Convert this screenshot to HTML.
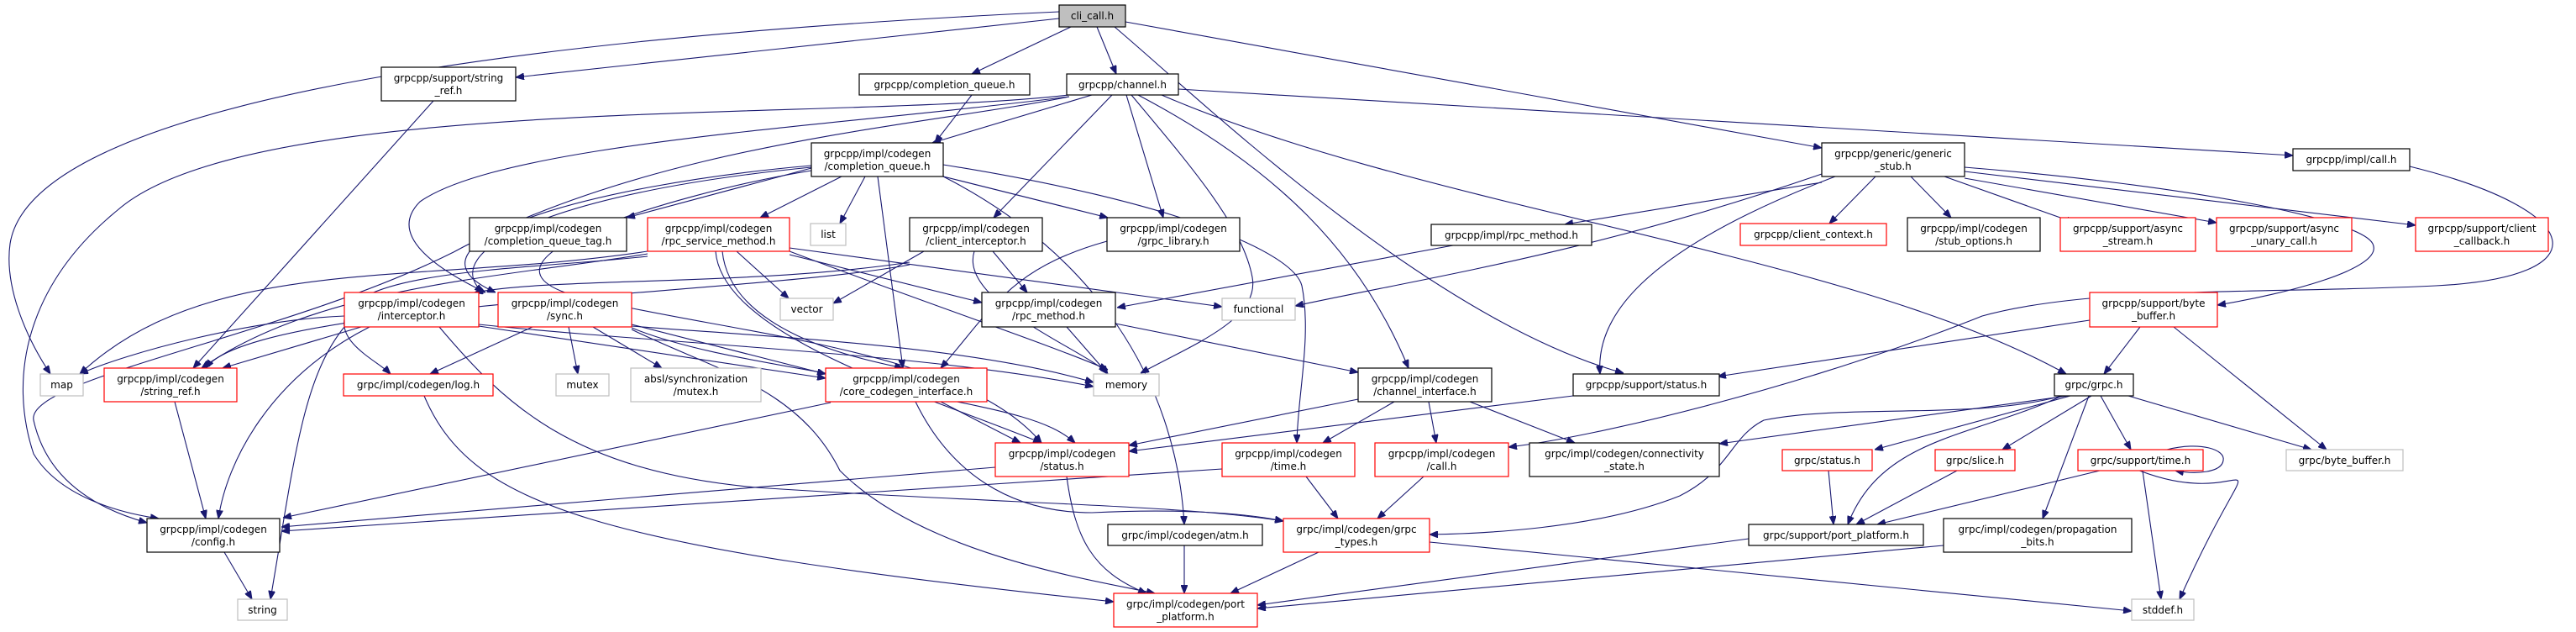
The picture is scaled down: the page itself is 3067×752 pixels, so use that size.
<!DOCTYPE html>
<html><head><meta charset="utf-8"><style>
html,body{margin:0;padding:0;background:#fff;}
svg{display:block;}
text{font-family:"DejaVu Sans","Liberation Sans",sans-serif;font-size:12px;fill:#000;text-anchor:middle;}
.e{fill:none;stroke:#191970;stroke-width:1.1;marker-end:url(#a);}
.b{fill:#fff;stroke:#000;stroke-width:1.2;}
.r{fill:#fff;stroke:#ff0000;stroke-width:1.2;}
.g{fill:#fff;stroke:#bfbfbf;stroke-width:1.2;}
</style></head><body>
<svg width="3067" height="752" viewBox="0 0 3067 752" xmlns="http://www.w3.org/2000/svg">
<defs><marker id="a" markerWidth="10" markerHeight="8" refX="10" refY="4" orient="auto" markerUnits="userSpaceOnUse"><path d="M0,0 L10,4 L0,8 z" fill="#191970" stroke="#191970"/></marker></defs>

<!-- edges -->
<path class="e" d="M1261,14 C700,40 40,110 12,290 C5,340 30,400 60,445"/>
<path class="e" d="M1261,22 L614,92"/>
<path class="e" d="M1275,32 L1157,88"/>
<path class="e" d="M1306,32 L1329,88"/>
<path class="e" d="M1327,32 C1420,110 1700,380 1933,444"/>
<path class="e" d="M1340,26 L2169,176"/>
<path class="e" d="M1403,106 L2730,185"/>
<path class="e" d="M1383,113 C1700,250 2200,300 2460,445"/>
<path class="e" d="M1300,113 L1110,170"/>
<path class="e" d="M1324,113 L1183,259"/>
<path class="e" d="M1341,113 L1385,259"/>
<path class="e" d="M1347,113 C1420,200 1480,270 1491,330 C1500,380 1420,410 1358,444"/>
<path class="e" d="M1355,113 C1520,200 1620,300 1677,438"/>
<path class="e" d="M1273,113 C1000,145 300,110 140,250 C30,340 10,450 40,540 C70,590 140,610 189,617"/>
<path class="e" d="M1273,115 C1000,150 600,170 500,240 C460,280 520,320 578,348"/>
<path class="e" d="M1273,115 C1100,150 780,170 540,300 C340,400 30,450 40,500 C60,590 150,615 175,622"/>
<!-- completion_queue impl -->
<path class="e" d="M1157,113 L1113,170"/>
<path class="e" d="M966,200 L746,259"/>
<path class="e" d="M1002,210 L905,259"/>
<path class="e" d="M1030,210 L1000,266"/>
<path class="e" d="M1123,210 L1319,259"/>
<path class="e" d="M1045,210 L1075,438"/>
<path class="e" d="M1123,196 C1400,240 1540,300 1550,340 C1562,400 1545,470 1544,527"/>
<path class="e" d="M1123,210 C1300,300 1400,450 1410,624"/>
<path class="e" d="M966,197 C700,220 460,290 590,348"/>
<path class="e" d="M966,199 C650,230 520,300 575,348"/>
<path class="e" d="M966,203 C800,230 500,320 720,360 C900,400 1150,420 1240,527"/>
<!-- rpc_service_method -->
<path class="e" d="M771,299 C500,340 250,300 95,445"/>
<path class="e" d="M771,302 C600,330 380,340 240,438"/>
<path class="e" d="M771,305 C640,320 420,320 410,380 C405,410 450,430 465,445"/>
<path class="e" d="M877,299 L939,355"/>
<path class="e" d="M940,299 C1100,360 1250,410 1319,440"/>
<path class="e" d="M940,295 L1455,365"/>
<path class="e" d="M940,303 L1169,360"/>
<path class="e" d="M852,299 C860,400 1100,470 1240,527"/>
<path class="e" d="M860,299 C870,400 1040,430 1075,438"/>
<!-- client_interceptor -->
<path class="e" d="M1100,299 L992,361"/>
<path class="e" d="M1182,299 L1223,348"/>
<path class="e" d="M1160,299 C1140,360 1300,420 1319,445"/>
<path class="e" d="M1083,312 C900,340 660,330 565,348"/>
<path class="e" d="M1083,315 C900,350 300,360 245,438"/>
<path class="e" d="M1318,287 C1200,320 1180,370 1120,438"/>
<path class="e" d="M1730,292 L1330,366"/>
<path class="e" d="M1270,389 L1319,445"/>
<path class="e" d="M1328,385 L1617,443"/>
<!-- generic_stub -->
<path class="e" d="M2169,207 C1900,300 1700,330 1542,364"/>
<path class="e" d="M2185,210 C1950,300 1900,380 1905,445"/>
<path class="e" d="M2169,217 L1863,267"/>
<path class="e" d="M2233,210 L2178,266"/>
<path class="e" d="M2275,210 L2323,259"/>
<path class="e" d="M2315,210 L2470,265"/>
<path class="e" d="M2339,212 L2639,265"/>
<path class="e" d="M2339,204 L2876,268"/>
<path class="e" d="M2339,199 C2600,220 2810,260 2825,290 C2840,320 2720,350 2640,363"/>
<path class="e" d="M2869,198 C3080,250 3100,330 2900,340 C2700,350 2490,340 2360,376 C2150,460 1900,520 1796,532"/>
<!-- byte_buffer grpcpp -->
<path class="e" d="M2488,381 L2045,448"/>
<path class="e" d="M2548,389 L2505,445"/>
<path class="e" d="M2588,389 L2770,535"/>
<!-- sync -->
<path class="e" d="M634,389 L512,445"/>
<path class="e" d="M677,389 L688,445"/>
<path class="e" d="M706,389 L788,438"/>
<path class="e" d="M752,386 L983,445"/>
<path class="e" d="M752,390 C850,430 1000,440 1100,470 C1200,490 1250,500 1280,527"/>
<path class="e" d="M752,392 C850,440 950,460 1000,560 C1100,660 1300,690 1375,706"/>
<path class="e" d="M752,388 C900,400 1150,410 1302,455"/>
<!-- interceptor -->
<path class="e" d="M410,376 C300,380 150,420 95,445"/>
<path class="e" d="M430,389 L265,438"/>
<path class="e" d="M440,389 C320,450 270,550 260,617"/>
<path class="e" d="M410,389 C360,450 350,550 322,713"/>
<path class="e" d="M570,388 L983,450"/>
<path class="e" d="M523,389 C600,480 680,560 900,580 C1200,600 1400,600 1528,620"/>
<path class="e" d="M570,386 C800,410 1100,420 1302,460"/>
<!-- misc -->
<path class="e" d="M516,120 L230,438"/>
<path class="e" d="M208,478 L245,617"/>
<path class="e" d="M267,657 L300,713"/>
<path class="e" d="M505,471 C560,600 700,650 1326,716"/>
<path class="e" d="M1873,471 L1344,537"/>
<path class="e" d="M1617,475 L1344,530"/>
<path class="e" d="M1660,478 L1575,527"/>
<path class="e" d="M1701,478 L1710,527"/>
<path class="e" d="M1750,478 L1875,527"/>
<path class="e" d="M989,479 L337,616"/>
<path class="e" d="M1120,478 L1215,527"/>
<path class="e" d="M1090,478 C1130,560 1200,610 1300,610 C1400,605 1480,610 1528,620"/>
<path class="e" d="M1185,556 L335,627"/>
<path class="e" d="M1270,567 C1280,640 1300,680 1365,706"/>
<path class="e" d="M1455,558 L335,632"/>
<path class="e" d="M1555,567 L1593,617"/>
<path class="e" d="M1695,567 L1640,617"/>
<path class="e" d="M1570,657 L1465,706"/>
<path class="e" d="M1702,645 L2538,727"/>
<path class="e" d="M1410,649 L1410,706"/>
<!-- grpc.h -->
<path class="e" d="M2462,471 L2047,528"/>
<path class="e" d="M2465,471 L2232,535"/>
<path class="e" d="M2490,471 L2384,535"/>
<path class="e" d="M2501,471 L2537,535"/>
<path class="e" d="M2534,471 L2752,535"/>
<path class="e" d="M2455,471 C2350,520 2240,520 2200,624"/>
<path class="e" d="M2455,471 C2350,500 2200,480 2100,500 C2060,520 2060,560 2000,590 C1900,630 1760,635 1702,636"/>
<path class="e" d="M2487,471 L2432,617"/>
<path class="e" d="M2540,557 C2690,620 2700,480 2595,713"/>
<path class="e" d="M2177,560 L2183,624"/>
<path class="e" d="M2330,560 L2210,624"/>
<path class="e" d="M2500,560 L2235,624"/>
<path class="e" d="M2551,560 L2573,713"/>
<path class="e" d="M2580,535 C2620,525 2650,535 2647,548 C2645,562 2615,565 2590,560"/>
<path class="e" d="M2082,641 L1497,720"/>
<path class="e" d="M2314,649 L1497,724"/>

<!-- nodes -->
<rect x="1261" y="6" width="79" height="26" fill="#bfbfbf" stroke="#000" stroke-width="1.2"/><text x="1300.5" y="23">cli_call.h</text>
<rect class="b" x="454" y="80" width="160" height="40"/><text x="534" y="97">grpcpp/support/string</text><text x="534" y="112">_ref.h</text>
<rect class="b" x="1023" y="88" width="203" height="25"/><text x="1124.5" y="105">grpcpp/completion_queue.h</text>
<rect class="b" x="1270" y="88" width="133" height="25"/><text x="1336.5" y="105">grpcpp/channel.h</text>
<rect class="b" x="966" y="170" width="157" height="40"/><text x="1044.5" y="187">grpcpp/impl/codegen</text><text x="1044.5" y="202">/completion_queue.h</text>
<rect class="b" x="2169" y="170" width="170" height="40"/><text x="2254" y="187">grpcpp/generic/generic</text><text x="2254" y="202">_stub.h</text>
<rect class="b" x="2730" y="177" width="139" height="26"/><text x="2799.5" y="194">grpcpp/impl/call.h</text>
<rect class="b" x="559" y="259" width="187" height="40"/><text x="652.5" y="276">grpcpp/impl/codegen</text><text x="652.5" y="291">/completion_queue_tag.h</text>
<rect class="r" x="771" y="259" width="169" height="40"/><text x="855.5" y="276">grpcpp/impl/codegen</text><text x="855.5" y="291">/rpc_service_method.h</text>
<rect class="g" x="965" y="266" width="42" height="26"/><text x="986" y="283">list</text>
<rect class="b" x="1083" y="259" width="158" height="40"/><text x="1162" y="276">grpcpp/impl/codegen</text><text x="1162" y="291">/client_interceptor.h</text>
<rect class="b" x="1318" y="259" width="158" height="40"/><text x="1397" y="276">grpcpp/impl/codegen</text><text x="1397" y="291">/grpc_library.h</text>
<rect class="b" x="1704" y="267" width="191" height="25"/><text x="1799.5" y="284">grpcpp/impl/rpc_method.h</text>
<rect class="r" x="2072" y="266" width="174" height="26"/><text x="2159" y="283">grpcpp/client_context.h</text>
<rect class="b" x="2271" y="259" width="158" height="40"/><text x="2350" y="276">grpcpp/impl/codegen</text><text x="2350" y="291">/stub_options.h</text>
<rect class="r" x="2453" y="259" width="161" height="40"/><text x="2533.5" y="276">grpcpp/support/async</text><text x="2533.5" y="291">_stream.h</text>
<rect class="r" x="2639" y="259" width="161" height="40"/><text x="2719.5" y="276">grpcpp/support/async</text><text x="2719.5" y="291">_unary_call.h</text>
<rect class="r" x="2876" y="259" width="158" height="40"/><text x="2955" y="276">grpcpp/support/client</text><text x="2955" y="291">_callback.h</text>
<rect class="r" x="410" y="348" width="160" height="41"/><text x="490" y="365">grpcpp/impl/codegen</text><text x="490" y="380">/interceptor.h</text>
<rect class="r" x="593" y="348" width="159" height="41"/><text x="672.5" y="365">grpcpp/impl/codegen</text><text x="672.5" y="380">/sync.h</text>
<rect class="g" x="929" y="355" width="63" height="26"/><text x="960.5" y="372">vector</text>
<rect class="b" x="1169" y="348" width="159" height="41"/><text x="1248.5" y="365">grpcpp/impl/codegen</text><text x="1248.5" y="380">/rpc_method.h</text>
<rect class="g" x="1455" y="355" width="87" height="26"/><text x="1498.5" y="372">functional</text>
<rect class="r" x="2488" y="348" width="152" height="41"/><text x="2564" y="365">grpcpp/support/byte</text><text x="2564" y="380">_buffer.h</text>
<rect class="g" x="48" y="445" width="51" height="26"/><text x="73.5" y="462">map</text>
<rect class="r" x="124" y="438" width="158" height="40"/><text x="203" y="455">grpcpp/impl/codegen</text><text x="203" y="470">/string_ref.h</text>
<rect class="r" x="409" y="445" width="178" height="26"/><text x="498" y="462">grpc/impl/codegen/log.h</text>
<rect class="g" x="662" y="445" width="63" height="26"/><text x="693.5" y="462">mutex</text>
<rect class="g" x="751" y="438" width="155" height="40"/><text x="828.5" y="455">absl/synchronization</text><text x="828.5" y="470">/mutex.h</text>
<rect class="r" x="983" y="438" width="192" height="40"/><text x="1079" y="455">grpcpp/impl/codegen</text><text x="1079" y="470">/core_codegen_interface.h</text>
<rect class="g" x="1302" y="445" width="78" height="26"/><text x="1341" y="462">memory</text>
<rect class="b" x="1617" y="438" width="159" height="40"/><text x="1696.5" y="455">grpcpp/impl/codegen</text><text x="1696.5" y="470">/channel_interface.h</text>
<rect class="b" x="1873" y="445" width="174" height="26"/><text x="1960" y="462">grpcpp/support/status.h</text>
<rect class="b" x="2446" y="445" width="94" height="26"/><text x="2493" y="462">grpc/grpc.h</text>
<rect class="r" x="1185" y="527" width="159" height="40"/><text x="1264.5" y="544">grpcpp/impl/codegen</text><text x="1264.5" y="559">/status.h</text>
<rect class="r" x="1455" y="527" width="158" height="40"/><text x="1534" y="544">grpcpp/impl/codegen</text><text x="1534" y="559">/time.h</text>
<rect class="r" x="1637" y="527" width="159" height="40"/><text x="1716.5" y="544">grpcpp/impl/codegen</text><text x="1716.5" y="559">/call.h</text>
<rect class="b" x="1821" y="527" width="226" height="40"/><text x="1934" y="544">grpc/impl/codegen/connectivity</text><text x="1934" y="559">_state.h</text>
<rect class="r" x="2122" y="535" width="107" height="25"/><text x="2175.5" y="552">grpc/status.h</text>
<rect class="r" x="2304" y="535" width="95" height="25"/><text x="2351.5" y="552">grpc/slice.h</text>
<rect class="r" x="2474" y="535" width="149" height="25"/><text x="2548.5" y="552">grpc/support/time.h</text>
<rect class="g" x="2722" y="535" width="139" height="25"/><text x="2791.5" y="552">grpc/byte_buffer.h</text>
<rect class="b" x="175" y="617" width="158" height="40"/><text x="254" y="634">grpcpp/impl/codegen</text><text x="254" y="649">/config.h</text>
<rect class="b" x="1319" y="624" width="184" height="25"/><text x="1411" y="641">grpc/impl/codegen/atm.h</text>
<rect class="r" x="1528" y="617" width="174" height="40"/><text x="1615" y="634">grpc/impl/codegen/grpc</text><text x="1615" y="649">_types.h</text>
<rect class="b" x="2082" y="624" width="208" height="25"/><text x="2186" y="641">grpc/support/port_platform.h</text>
<rect class="b" x="2314" y="617" width="224" height="40"/><text x="2426" y="634">grpc/impl/codegen/propagation</text><text x="2426" y="649">_bits.h</text>
<rect class="g" x="283" y="713" width="59" height="25"/><text x="312.5" y="730">string</text>
<rect class="r" x="1326" y="706" width="171" height="40"/><text x="1411.5" y="723">grpc/impl/codegen/port</text><text x="1411.5" y="738">_platform.h</text>
<rect class="g" x="2538" y="713" width="74" height="25"/><text x="2575" y="730">stddef.h</text>
</svg>
</body></html>
